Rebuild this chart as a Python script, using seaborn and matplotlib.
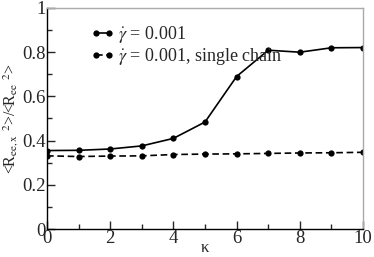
import matplotlib
matplotlib.use("Agg")
import matplotlib.pyplot as plt
import seaborn as sns
import pandas as pd
from matplotlib.ticker import MultipleLocator

kappa = [0, 1, 2, 3, 4, 5, 6, 7, 8, 9, 10]
ratio_bulk = [0.355, 0.356, 0.362, 0.376, 0.41, 0.484, 0.69, 0.809, 0.80, 0.82, 0.821]
ratio_single = [0.331, 0.328, 0.330, 0.331, 0.337, 0.339, 0.340, 0.342, 0.344, 0.345, 0.347]
labels = [r"$\dot{\gamma}$ = 0.001", r"$\dot{\gamma}$ = 0.001, single chain"]

sns.set_style("ticks")
plt.rcParams["font.family"] = ["Liberation Serif", "DejaVu Serif"]
plt.rcParams["mathtext.fontset"] = "stix"

df = pd.DataFrame({
    "kappa": kappa * 2,
    "ratio": ratio_bulk + ratio_single,
    "series": [labels[0]] * len(kappa) + [labels[1]] * len(kappa),
})

fig = plt.figure(figsize=(3.74, 2.57), dpi=100)
ax = fig.add_axes([47 / 374, 28 / 257, 316 / 374, 221 / 257])

sns.lineplot(data=df, x="kappa", y="ratio", hue="series", style="series",
             palette=["black", "black"], dashes=[(None, None), (4, 2.2)],
             markers=["o", "o"], markersize=4.5, markeredgewidth=0,
             linewidth=1.2, ax=ax)

ax.set_xlim(0, 10)
ax.set_ylim(0, 1)
ax.set_xticks([0, 2, 4, 6, 8, 10])
ax.set_xticklabels(["0", "2", "4", "6", "8", "10"])
ax.set_yticks([0, 0.2, 0.4, 0.6, 0.8, 1.0])
ax.set_yticklabels(["0", "0.2", "0.4", "0.6", "0.8", "1"])
ax.xaxis.set_minor_locator(MultipleLocator(1))
ax.yaxis.set_minor_locator(MultipleLocator(0.1))
ax.tick_params(which="major", direction="in", length=6, width=1, labelsize=13.5, pad=1)
ax.tick_params(which="minor", direction="in", length=3.5, width=1)
for s in ["left", "bottom"]:
    ax.spines[s].set_color("black")
    ax.spines[s].set_linewidth(1)
for s in ["top", "right"]:
    ax.spines[s].set_visible(True)
    ax.spines[s].set_color("#aaaaaa")
    ax.spines[s].set_linewidth(1)

ax.set_xlabel("κ", fontsize=12, labelpad=-5)
ax.set_ylabel(r"<R$_{\rm ee,x}$ $^{2}$>/<R$_{\rm ee}$ $^{2}$>", fontsize=11.5, labelpad=1)

leg = ax.legend(loc="upper left", bbox_to_anchor=(0.115, 0.96), frameon=False,
                fontsize=13, handlelength=1.3, handletextpad=0.2, numpoints=2,
                labelspacing=0.05, borderaxespad=0)

fig.savefig("out.png", dpi=100)
